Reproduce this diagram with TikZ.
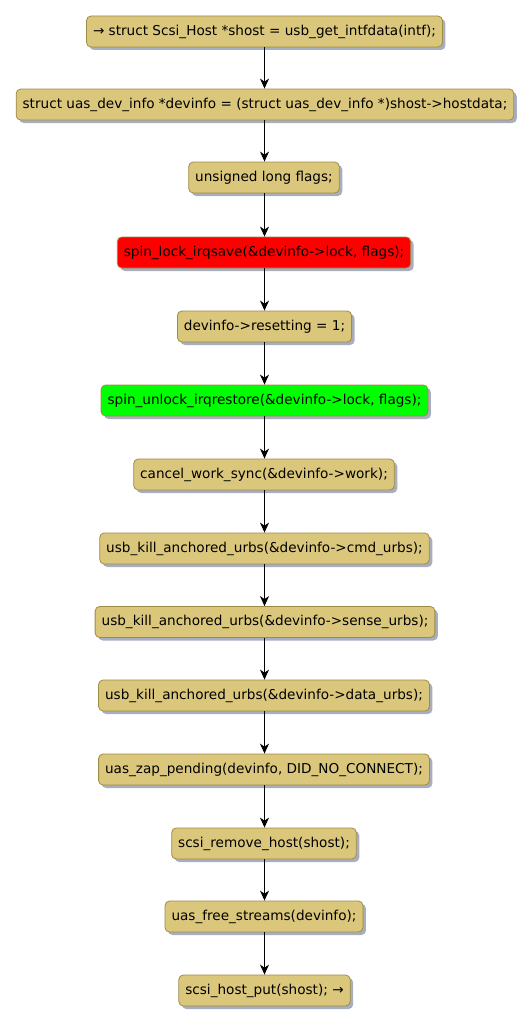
\documentclass[tikz,border=0pt]{standalone}
\usepackage{fontspec}
\setmainfont{DejaVu Sans}
\usetikzlibrary{arrows.meta,shadows}
\definecolor{acttan}{HTML}{DBC77C}
\definecolor{actborder}{HTML}{A08B45}
\definecolor{actshadow}{HTML}{A7AEBF}
\definecolor{actred}{HTML}{FF0000}
\definecolor{actgreen}{HTML}{00FF00}
\tikzset{
  act/.style={draw=actborder, line width=0.8pt, fill=acttan, rounded corners=4.5pt,
    minimum height=31pt, inner xsep=6.5pt, inner ysep=0pt,
    font=\fontsize{13.6}{15}\selectfont,
    drop shadow={shadow xshift=3pt, shadow yshift=-3pt, fill=actshadow, opacity=1}},
  flow/.style={draw=black, line width=0.9pt, -{Stealth[length=10pt,width=9pt,inset=3pt]}}
}
\begin{document}
\begin{tikzpicture}[x=1pt,y=-1pt]
\useasboundingbox (0,0) rectangle (532,1025);
\node[act] (n1) at (264.5,31.5) {→ struct Scsi\_Host *shost = usb\_get\_intfdata(intf);};
\node[act] (n2) at (265,104.5) {struct uas\_dev\_info *devinfo = (struct uas\_dev\_info *)shost->hostdata;};
\node[act] (n3) at (264,177.5) {unsigned long flags;};
\node[act, fill=actred] (n4) at (264,252.5) {spin\_lock\_irqsave(\&devinfo->lock, flags);};
\node[act] (n5) at (264.5,326.5) {devinfo->resetting = 1;};
\node[act, fill=actgreen] (n6) at (264.5,400.5) {spin\_unlock\_irqrestore(\&devinfo->lock, flags);};
\node[act] (n7) at (264,474.5) {cancel\_work\_sync(\&devinfo->work);};
\node[act] (n8) at (264.5,548.5) {usb\_kill\_anchored\_urbs(\&devinfo->cmd\_urbs);};
\node[act] (n9) at (265,622) {usb\_kill\_anchored\_urbs(\&devinfo->sense\_urbs);};
\node[act] (n10) at (264,695.5) {usb\_kill\_anchored\_urbs(\&devinfo->data\_urbs);};
\node[act] (n11) at (264,769.5) {uas\_zap\_pending(devinfo, DID\_NO\_CONNECT);};
\node[act] (n12) at (264,843.5) {scsi\_remove\_host(shost);};
\node[act] (n13) at (264,916.5) {uas\_free\_streams(devinfo);};
\node[act] (n14) at (264.5,990.5) {scsi\_host\_put(shost); →};
\foreach \a/\b in {n1/n2,n2/n3,n3/n4,n4/n5,n5/n6,n6/n7,n7/n8,n8/n9,n9/n10,n10/n11,n11/n12,n12/n13,n13/n14}
  \draw[flow] (\a.south -| 264.5,0) -- (\b.north -| 264.5,0);
\end{tikzpicture}
\end{document}
